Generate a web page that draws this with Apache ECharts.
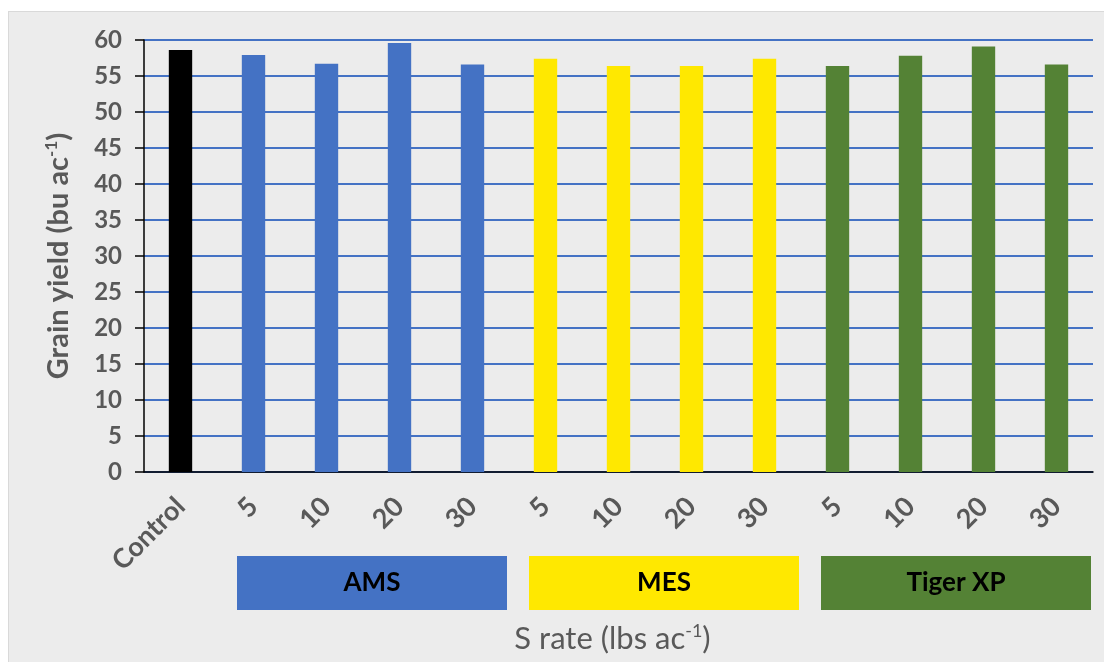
<!DOCTYPE html>
<html><head><meta charset="utf-8">
<script src="https://cdn.jsdelivr.net/npm/echarts@6/dist/echarts.min.js"></script>
<style>
html,body{margin:0;padding:0;background:#fff;}
#bg{position:absolute;left:8px;top:11px;width:1100px;height:660px;background:#ECECEC;border-left:1px solid #D9D9D9;border-top:1px solid #D9D9D9;}
#c{position:absolute;left:0;top:0;width:1104px;height:662px;}
</style></head>
<body><div id="bg"></div><div id="c"></div>
<script>
const categories = ['Control','5','10','20','30','5','10','20','30','5','10','20','30'];
const yieldValues = [58.6, 57.9, 56.7, 59.6, 56.6, 57.4, 56.4, 56.4, 57.4, 56.4, 57.8, 59.1, 56.6];
const barGroup = [0,1,1,1,1,2,2,2,2,3,3,3,3];
const groupColors = ['#000000','#4472C4','#FFE800','#548235'];
const groupNames = ['', 'AMS', 'MES', 'Tiger XP'];
const groupStart = [0, 1, 5, 9];
const groupEnd = [0, 4, 8, 12];
const yTicks = [0,5,10,15,20,25,30,35,40,45,50,55,60];

const FONT = 'Lato';
const chart = echarts.init(document.getElementById('c'), null, {renderer:'canvas'});
const option = {
  backgroundColor: 'transparent',
  animation: false,
  grid: {left:144, right:11, top:40, bottom:190, containLabel:false},
  xAxis: {
    type:'category', data: categories,
    axisLine:{show:true, lineStyle:{color:'#000', width:1.5}},
    axisTick:{show:false},
    axisLabel:{rotate:45, margin:30, color:'#595959', fontFamily:FONT, fontWeight:'bold', fontSize:27, interval:0},
    name:'S rate (lbs ac{s|-1})',
    nameLocation:'middle', nameGap:150,
    nameTextStyle:{color:'#595959', fontFamily:FONT, fontSize:31, padding:[0,12,0,0],
      rich:{s:{fontSize:18, verticalAlign:'top', color:'#595959', fontFamily:FONT, padding:[0,0,15,0]}}}
  },
  yAxis: {
    type:'value', min:yTicks[0], max:yTicks[yTicks.length-1], interval:yTicks[1]-yTicks[0],
    axisLine:{show:true, lineStyle:{color:'#000', width:1.5}},
    axisTick:{show:true, inside:false, length:9, lineStyle:{color:'#000', width:1.5}},
    axisLabel:{margin:22, color:'#595959', fontFamily:FONT, fontWeight:'bold', fontSize:24},
    splitLine:{show:true, lineStyle:{color:'#4472C4', width:2}},
    name:'{t|Grain yield (bu ac}{s|-1}{t|)}',
    nameLocation:'middle', nameGap:70, nameRotate:90,
    nameTextStyle:{rich:{
      t:{color:'#595959', fontFamily:FONT, fontWeight:'bold', fontSize:29},
      s:{color:'#595959', fontFamily:FONT, fontWeight:'bold', fontSize:17, padding:[0,0,14,0]}
    }}
  },
  series: [{
    type:'bar', barWidth:'32%',
    data: yieldValues.map((v,i)=>({value:v, itemStyle:{color:groupColors[barGroup[i]]}})),
    z:3
  }]
};
chart.setOption(option);

function drawGroups(){
  const els = [];
  for (let g=1; g<groupNames.length; g++){
    const a = chart.convertToPixel({xAxisIndex:0}, groupStart[g]);
    const b = chart.convertToPixel({xAxisIndex:0}, groupEnd[g]);
    const step = chart.convertToPixel({xAxisIndex:0}, 1) - chart.convertToPixel({xAxisIndex:0}, 0);
    const x0 = a - step/2 + 20, x1 = b + step/2 - 2;
    els.push({type:'rect', shape:{x:x0, y:556, width:x1-x0, height:54}, style:{fill:groupColors[g]}});
    els.push({type:'text', x:(x0+x1)/2, y:583, style:{text:groupNames[g], fill:'#000', font:'bold 26px '+FONT, align:'center', verticalAlign:'middle'}});
  }
  chart.setOption({graphic:{elements:els}});
}
drawGroups();
</script>
</body></html>
